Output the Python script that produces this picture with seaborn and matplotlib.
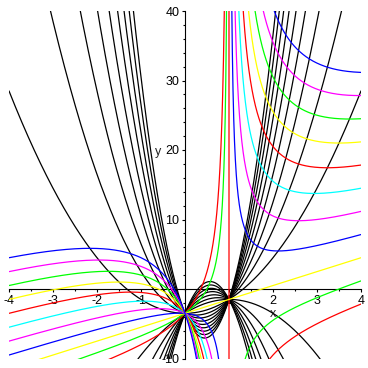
import numpy as np
import pandas as pd
import matplotlib
matplotlib.use("Agg")
import matplotlib.pyplot as plt
from matplotlib.ticker import MultipleLocator
import seaborn as sns

# ---- values ----
# common straight line through the two meeting points (0,-3.5) and (1,-1.5)
line_slope = 2.0
line_intercept = -3.5
# black family: y = line + c * x (x - 1)
black_c = [-14, -12, -10, -8, -6, -4, -2, 2, 4, 6, 8, 10, 12, 14, 16, 18]
# coloured family: y = line + scale * c * x / (x - 1)
pole_scale = 2.5
pole_c = [-2, -1, 0, 1, 2, 3, 4, 5, 6, 7, 8]
pole_colors = ["#ff0000", "#00ff00", "#ffff00", "#0000ff", "#ff00ff", "#00ffff",
               "#ff0000", "#ffff00", "#00ff00", "#ff00ff", "#0000ff"]
connected_c = -2          # the red curve whose branches are joined across x = 1
x_tick_values = [-4, -3, -2, -1, 1, 2, 3, 4]
y_tick_values = [-10, 10, 20, 30, 40]

# ---- build long-format data ----
rows = []
hue_order = []
palette = {}

xb = np.linspace(-4, 4, 1601)
for i, c in enumerate(black_c):
    name = f"b{i:02d}"
    hue_order.append(name)
    palette[name] = "black"
    yb = line_slope * xb + line_intercept + c * xb * (xb - 1)
    rows.append(pd.DataFrame({"x": xb, "y": yb, "curve": name, "unit": name + "_0"}))

left_x = np.unique(np.concatenate([np.linspace(-4, 0.5, 900),
                                   1 - np.geomspace(0.5, 1e-4, 700)]))
right_x = np.unique(np.concatenate([1 + np.geomspace(1e-4, 0.5, 700),
                                    np.linspace(1.5, 4, 500)]))
for i, (c, col) in enumerate(zip(pole_c, pole_colors)):
    name = f"p{i:02d}"
    hue_order.append(name)
    palette[name] = col
    for j, xs in enumerate([left_x, right_x]):
        ys = line_slope * xs + line_intercept + pole_scale * c * xs / (xs - 1)
        ys = np.clip(ys, -1e4, 1e4)
        unit = name + ("_0" if c == connected_c else f"_{j}")
        rows.append(pd.DataFrame({"x": xs, "y": ys, "curve": name, "unit": unit}))

df = pd.concat(rows, ignore_index=True)

# ---- draw ----
sns.set_style("white")
plt.rcParams["font.family"] = ["Liberation Sans", "DejaVu Sans"]

fig = plt.figure(figsize=(3.68, 3.68), dpi=100)
ax = fig.add_axes([9 / 368, 9.5 / 368, 352 / 368, 347.5 / 368])

sns.lineplot(data=df, x="x", y="y", hue="curve", hue_order=hue_order,
             palette=palette, units="unit", estimator=None, sort=False,
             legend=False, linewidth=0.9, ax=ax)
for ln in ax.lines:
    ln.set_zorder(3)

ax.set_xlim(-4, 4)
ax.set_ylim(-10, 40)
ax.set_xlabel("")
ax.set_ylabel("")

for side in ["top", "right"]:
    ax.spines[side].set_visible(False)
ax.spines["left"].set_position(("data", 0))
ax.spines["bottom"].set_position(("data", 0))
for side in ["left", "bottom"]:
    ax.spines[side].set_linewidth(0.8)
    ax.spines[side].set_color("black")

ax.set_xticks(x_tick_values)
ax.set_xticklabels([str(v) for v in x_tick_values])
ax.set_yticks(y_tick_values)
ax.set_yticklabels([str(v) for v in y_tick_values])
ax.xaxis.set_minor_locator(MultipleLocator(0.5))
ax.yaxis.set_minor_locator(MultipleLocator(2))
ax.tick_params(axis="both", which="major", direction="out", length=2.5,
               width=0.8, color="black", labelsize=9, pad=1.5, labelcolor="black")
ax.tick_params(axis="both", which="minor", direction="out", length=1.5,
               width=0.8, color="black")
ax.tick_params(axis="x", which="both", bottom=True)
ax.tick_params(axis="y", which="both", left=True)

ax.text(1.99, -3.6, "x", ha="center", va="center", fontsize=9, zorder=1)
ax.text(-0.61, 19.7, "y", ha="center", va="center", fontsize=9, zorder=1)

fig.savefig("out.png", dpi=100)
